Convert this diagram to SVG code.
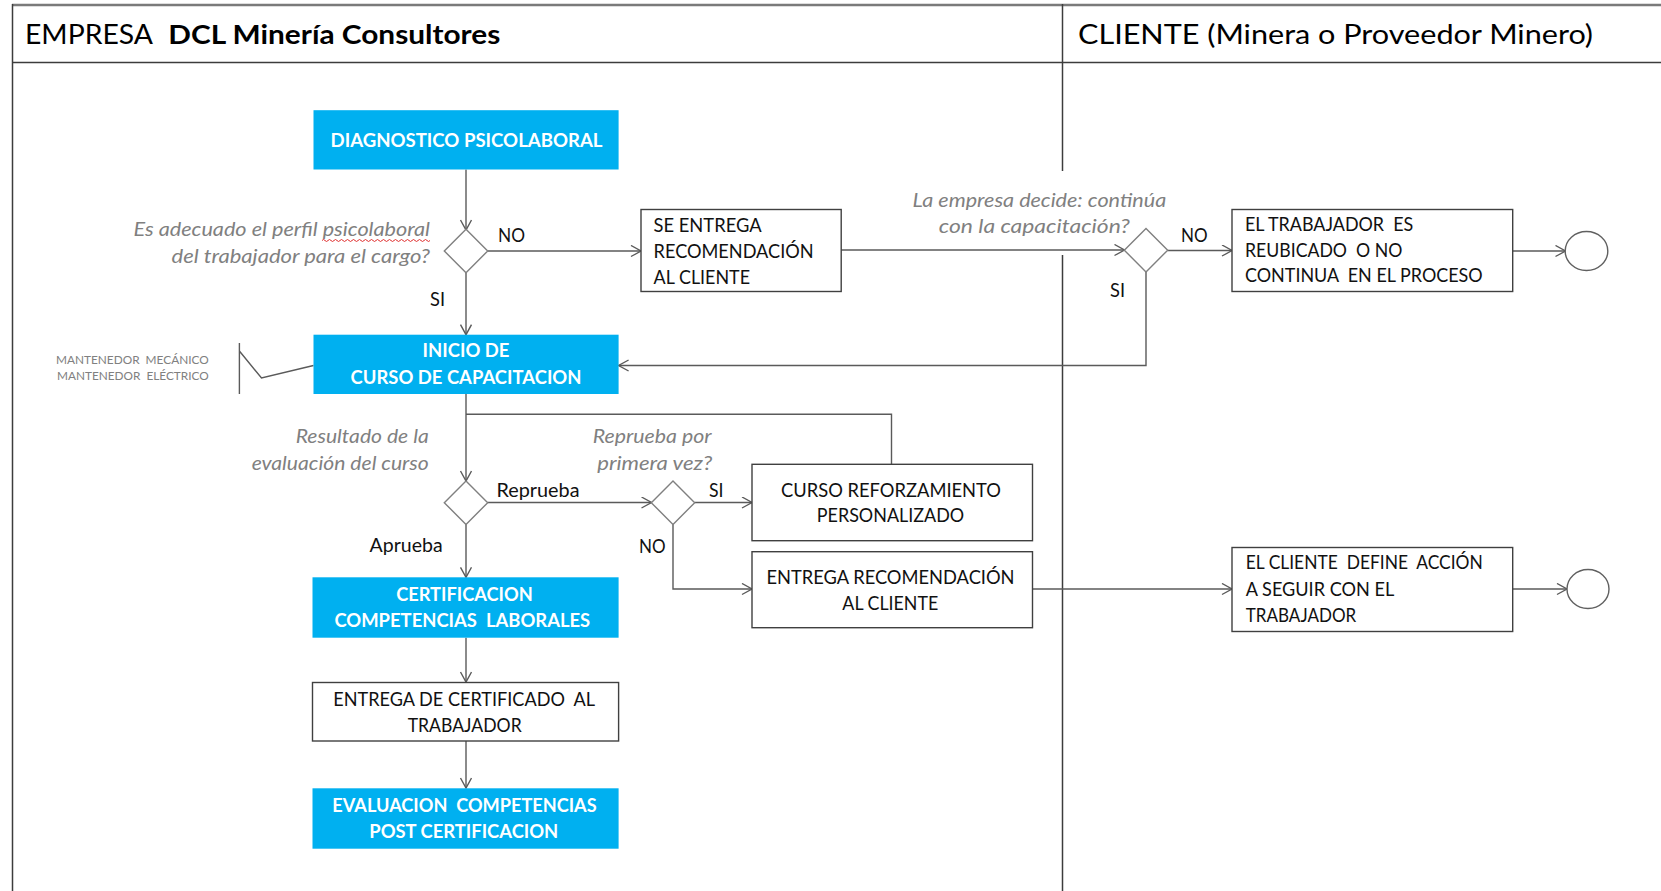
<svg xmlns="http://www.w3.org/2000/svg" width="1661" height="891" viewBox="0 0 1661 891">
<style>
.bg{fill:#ffffff}
.frame{stroke:#3c3c3c;stroke-width:1.5;fill:none}
.frametop{stroke:#7a7a7a;stroke-width:2.5;fill:none}
.blue{fill:#00B0F0}
.box{fill:#ffffff;stroke:#404040;stroke-width:1.4}
.dia{fill:#ffffff;stroke:#808080;stroke-width:1.4}
.conn{stroke:#5a5a5a;stroke-width:1.4;fill:none}
.end{fill:#ffffff;stroke:#606060;stroke-width:1.4}
text{font-family:Lato,"Open Sans","Liberation Sans",sans-serif}
.h{font-size:26px;fill:#000}
.hb{font-size:26px;fill:#000;font-weight:bold}
.t{font-size:18.5px;fill:#111}
.tb{font-size:18.5px;fill:#ffffff;font-weight:bold}
.q{font-size:19px;fill:#808080;font-style:italic}
.s{font-size:18.5px;fill:#111}
.m{font-size:12px;fill:#808080}
.c{text-anchor:middle}
.r{text-anchor:end}
</style>
<defs>
<marker id="arr" markerUnits="userSpaceOnUse" markerWidth="14" markerHeight="14" refX="11" refY="6" orient="auto">
<path d="M1,0.5 L11,6 L1,11.5" fill="none" stroke="#5a5a5a" stroke-width="1.4"/>
</marker>
</defs>
<rect class="bg" x="0" y="0" width="1661" height="891"/>

<g id="frame">
<line class="frametop" x1="12" y1="5" x2="1661" y2="5"/>
<line class="frame" x1="12.5" y1="4" x2="12.5" y2="891"/>
<line class="frame" x1="12" y1="62.5" x2="1661" y2="62.5"/>
<line class="frame" x1="1062.5" y1="4" x2="1062.5" y2="171"/>
<line class="frame" x1="1062.5" y1="255" x2="1062.5" y2="891"/>
<text x="25" y="43.5" class="h" textLength="128" lengthAdjust="spacingAndGlyphs">EMPRESA</text>
<text x="168.3" y="43.5" class="hb" textLength="332" lengthAdjust="spacingAndGlyphs">DCL Minería Consultores</text>
<text x="1078" y="43.5" class="h" textLength="515" lengthAdjust="spacingAndGlyphs">CLIENTE (Minera o Proveedor Minero)</text>
</g>

<g id="connectors">
<path class="conn" marker-end="url(#arr)" d="M466 169.5 V230"/>
<path class="conn" marker-end="url(#arr)" d="M487.5 251 H641"/>
<path class="conn" marker-end="url(#arr)" d="M466 272.5 V334.7"/>
<path class="conn" marker-end="url(#arr)" d="M841 250 H1124.5"/>
<path class="conn" marker-end="url(#arr)" d="M1167.5 250.5 H1232"/>
<path class="conn" marker-end="url(#arr)" d="M1512.7 251 H1565.5"/>
<path class="conn" marker-end="url(#arr)" d="M1146 272 V365.5 H618.6"/>
<path class="conn" marker-end="url(#arr)" d="M466 394 V481"/>
<path class="conn" d="M891.5 464 V414.3 H466"/>
<path class="conn" marker-end="url(#arr)" d="M487.5 502.5 H651.5"/>
<path class="conn" marker-end="url(#arr)" d="M694.5 502.5 H752"/>
<path class="conn" marker-end="url(#arr)" d="M673 524 V589 H752"/>
<path class="conn" marker-end="url(#arr)" d="M1033 589 H1232"/>
<path class="conn" marker-end="url(#arr)" d="M1512.7 589 H1567"/>
<path class="conn" marker-end="url(#arr)" d="M466 524 V577.3"/>
<path class="conn" marker-end="url(#arr)" d="M466 637.7 V682"/>
<path class="conn" marker-end="url(#arr)" d="M466 740.5 V788"/>
<path class="conn" d="M239.4 343 V394 M239.4 351 L261.5 378 L313.5 365.5"/>
</g>

<g id="n-diagnostico">
<rect class="blue" x="313.5" y="110.2" width="305.1" height="59.3"/>
<text x="466.5" y="146.5" class="tb c" textLength="272" lengthAdjust="spacingAndGlyphs">DIAGNOSTICO PSICOLABORAL</text>
</g>

<g id="n-decision1">
<polygon class="dia" points="466,229.3 487.7,251 466,272.7 444.3,251"/>
<text x="430" y="235.5" class="q r" textLength="296.5" lengthAdjust="spacingAndGlyphs">Es adecuado el perfil psicolaboral</text>
<path d="M322 240.5 q1.5 -2 3 0 t3 0 t3 0 t3 0 t3 0 t3 0 t3 0 t3 0 t3 0 t3 0 t3 0 t3 0 t3 0 t3 0 t3 0 t3 0 t3 0 t3 0 t3 0 t3 0 t3 0 t3 0 t3 0 t3 0 t3 0 t3 0 t3 0 t3 0 t3 0 t3 0 t3 0 t3 0 t3 0 t3 0 t3 0 t3 0" fill="none" stroke="#e03030" stroke-width="1"/>
<text x="430" y="262.5" class="q r" textLength="258.4" lengthAdjust="spacingAndGlyphs">del trabajador para el cargo?</text>
<text x="498" y="241.5" class="s" textLength="27" lengthAdjust="spacingAndGlyphs">NO</text>
<text x="430" y="306" class="s" textLength="15" lengthAdjust="spacingAndGlyphs">SI</text>
</g>

<g id="n-se-entrega">
<rect class="box" x="641" y="209.5" width="200.2" height="82"/>
<text x="653.6" y="231.5" class="t" textLength="108" lengthAdjust="spacingAndGlyphs">SE ENTREGA</text>
<text x="653.6" y="258" class="t" textLength="160" lengthAdjust="spacingAndGlyphs">RECOMENDACIÓN</text>
<text x="653.6" y="284" class="t" textLength="96.4" lengthAdjust="spacingAndGlyphs">AL CLIENTE</text>
</g>

<g id="n-decision2">
<polygon class="dia" points="1146,228.5 1167.7,250.2 1146,271.9 1124.3,250.2"/>
<text x="1039.3" y="206.7" class="q c" textLength="253.8" lengthAdjust="spacingAndGlyphs">La empresa decide: continúa</text>
<text x="1034.3" y="233.3" class="q c" textLength="191" lengthAdjust="spacingAndGlyphs">con la capacitación?</text>
<text x="1181" y="242" class="s" textLength="26.6" lengthAdjust="spacingAndGlyphs">NO</text>
<text x="1110" y="297" class="s" textLength="15" lengthAdjust="spacingAndGlyphs">SI</text>
</g>

<g id="n-trabajador">
<rect class="box" x="1232" y="209.5" width="280.7" height="82"/>
<text x="1245" y="230.5" class="t" xml:space="preserve" textLength="168.3" lengthAdjust="spacingAndGlyphs">EL TRABAJADOR  ES</text>
<text x="1245" y="256.5" class="t" xml:space="preserve" textLength="157.3" lengthAdjust="spacingAndGlyphs">REUBICADO  O NO</text>
<text x="1245" y="282" class="t" xml:space="preserve" textLength="237.7" lengthAdjust="spacingAndGlyphs">CONTINUA  EN EL PROCESO</text>
</g>

<g id="n-fin1">
<ellipse class="end" cx="1586.5" cy="251" rx="21.3" ry="19.5"/>
</g>

<g id="n-inicio">
<rect class="blue" x="313.5" y="334.7" width="305.1" height="59.3"/>
<text x="466" y="357" class="tb c" textLength="86.8" lengthAdjust="spacingAndGlyphs">INICIO DE</text>
<text x="466" y="383.5" class="tb c" textLength="231" lengthAdjust="spacingAndGlyphs">CURSO DE CAPACITACION</text>
</g>

<g id="n-mantenedor">
<text x="56" y="363.5" class="m" xml:space="preserve" textLength="152.7" lengthAdjust="spacingAndGlyphs">MANTENEDOR  MECÁNICO</text>
<text x="57" y="380" class="m" xml:space="preserve" textLength="151.7" lengthAdjust="spacingAndGlyphs">MANTENEDOR  ELÉCTRICO</text>
</g>

<g id="n-decision3">
<polygon class="dia" points="466,481 487.7,502.7 466,524.4 444.3,502.7"/>
<text x="428.7" y="443.3" class="q r" textLength="133" lengthAdjust="spacingAndGlyphs">Resultado de la</text>
<text x="428.7" y="470" class="q r" textLength="177" lengthAdjust="spacingAndGlyphs">evaluación del curso</text>
<text x="496.5" y="496.7" class="s" textLength="83" lengthAdjust="spacingAndGlyphs">Reprueba</text>
<text x="369.6" y="551.7" class="s" textLength="73" lengthAdjust="spacingAndGlyphs">Aprueba</text>
</g>

<g id="n-decision4">
<polygon class="dia" points="673,481 694.7,502.7 673,524.4 651.3,502.7"/>
<text x="711.5" y="443" class="q r" textLength="118.7" lengthAdjust="spacingAndGlyphs">Reprueba por</text>
<text x="712.2" y="470" class="q r" textLength="115" lengthAdjust="spacingAndGlyphs">primera vez?</text>
<text x="709" y="496.7" class="s" textLength="14.5" lengthAdjust="spacingAndGlyphs">SI</text>
<text x="639" y="553" class="s" textLength="26.6" lengthAdjust="spacingAndGlyphs">NO</text>
</g>

<g id="n-curso-refuerzo">
<rect class="box" x="752" y="464.3" width="280.5" height="76.4"/>
<text x="891" y="496.7" class="t c" textLength="220" lengthAdjust="spacingAndGlyphs">CURSO REFORZAMIENTO</text>
<text x="890.5" y="522" class="t c" textLength="147.4" lengthAdjust="spacingAndGlyphs">PERSONALIZADO</text>
</g>

<g id="n-entrega-recomendacion">
<rect class="box" x="752" y="551.7" width="280.5" height="76"/>
<text x="890.5" y="584" class="t c" textLength="248.2" lengthAdjust="spacingAndGlyphs">ENTREGA RECOMENDACIÓN</text>
<text x="890.3" y="610" class="t c" textLength="95.9" lengthAdjust="spacingAndGlyphs">AL CLIENTE</text>
</g>

<g id="n-cliente-define">
<rect class="box" x="1232" y="547.5" width="280.7" height="84"/>
<text x="1245.8" y="569.3" class="t" xml:space="preserve" textLength="237" lengthAdjust="spacingAndGlyphs">EL CLIENTE  DEFINE  ACCIÓN</text>
<text x="1245.8" y="596" class="t" textLength="148.4" lengthAdjust="spacingAndGlyphs">A SEGUIR CON EL</text>
<text x="1245.8" y="621.7" class="t" textLength="110.4" lengthAdjust="spacingAndGlyphs">TRABAJADOR</text>
</g>

<g id="n-fin2">
<ellipse class="end" cx="1588" cy="589" rx="21" ry="19.5"/>
</g>

<g id="n-certificacion">
<rect class="blue" x="312.5" y="577.3" width="306.1" height="60.4"/>
<text x="464.5" y="600.7" class="tb c" textLength="136.6" lengthAdjust="spacingAndGlyphs">CERTIFICACION</text>
<text x="462.3" y="626.7" class="tb c" xml:space="preserve" textLength="255.8" lengthAdjust="spacingAndGlyphs">COMPETENCIAS  LABORALES</text>
</g>

<g id="n-entrega-certificado">
<rect class="box" x="312.5" y="682.5" width="306.1" height="58.5"/>
<text x="464.2" y="705.7" class="t c" xml:space="preserve" textLength="261.7" lengthAdjust="spacingAndGlyphs">ENTREGA DE CERTIFICADO  AL</text>
<text x="464.7" y="732.3" class="t c" textLength="114" lengthAdjust="spacingAndGlyphs">TRABAJADOR</text>
</g>

<g id="n-evaluacion">
<rect class="blue" x="312.5" y="788.3" width="306.1" height="60.4"/>
<text x="464.5" y="811.7" class="tb c" xml:space="preserve" textLength="264.3" lengthAdjust="spacingAndGlyphs">EVALUACION  COMPETENCIAS</text>
<text x="463.8" y="838.3" class="tb c" textLength="189" lengthAdjust="spacingAndGlyphs">POST CERTIFICACION</text>
</g>
</svg>
